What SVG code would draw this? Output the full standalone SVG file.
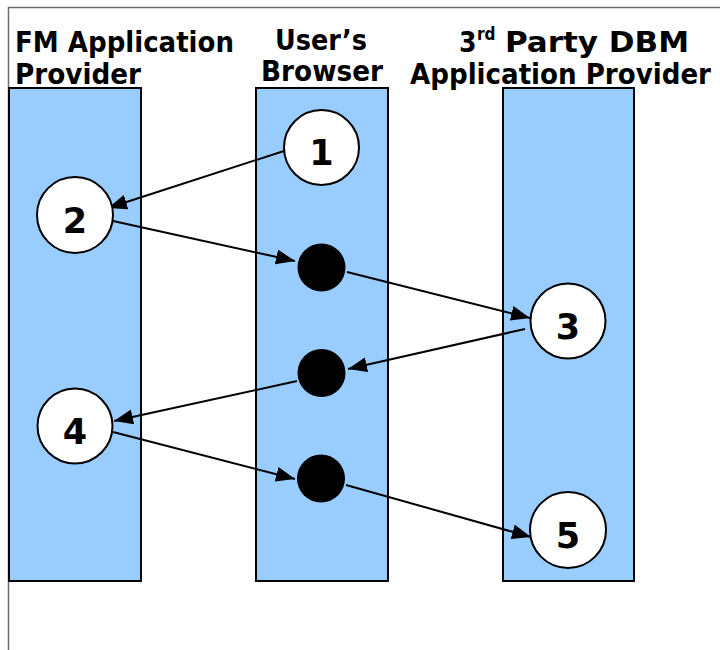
<svg xmlns="http://www.w3.org/2000/svg" width="720" height="650" viewBox="0 0 720 650">
<defs>
<style>
.lane{fill:#99ccff;stroke:#000;stroke-width:2}
.title{font-family:"DejaVu Sans Condensed","DejaVu Sans",Verdana,sans-serif;font-weight:bold;font-size:28px;fill:#000}
.step{fill:#fff;stroke:#000;stroke-width:2}
.dot{fill:#000}
.num{font-family:"DejaVu Sans",Verdana,sans-serif;font-weight:bold;font-size:35px;fill:#000;text-anchor:middle}
.conn{stroke:#000;stroke-width:2;fill:none;marker-end:url(#arr)}
</style>
<marker id="arr" markerUnits="userSpaceOnUse" markerWidth="22" markerHeight="16" refX="19" refY="7.5" orient="auto">
<path d="M0,0 L19,7.5 L0,15 z" fill="#000"/>
</marker>
</defs>
<rect width="720" height="650" fill="#fff"/>
<path d="M8.5,650 V7.5 H720" fill="none" stroke="#6e6e6e" stroke-width="1.5"/>
<g id="lane-fm">
<rect class="lane" x="9" y="88" width="132" height="493"/>
<text class="title" x="15" y="52" textLength="219" lengthAdjust="spacingAndGlyphs">FM Application</text>
<text class="title" x="15" y="84" textLength="126" lengthAdjust="spacingAndGlyphs">Provider</text>
</g>
<g id="lane-browser">
<rect class="lane" x="256" y="88" width="132" height="493"/>
<text class="title" x="275" y="50" textLength="92" lengthAdjust="spacingAndGlyphs">User’s</text>
<text class="title" x="261" y="81" textLength="122" lengthAdjust="spacingAndGlyphs">Browser</text>
</g>
<g id="lane-dbm">
<rect class="lane" x="503" y="88" width="131" height="493"/>
<text class="title" x="459" y="52">3<tspan x="477" y="40" font-size="17">rd</tspan><tspan x="505" y="52" textLength="184" lengthAdjust="spacingAndGlyphs">Party DBM</tspan></text>
<text class="title" x="410" y="84" textLength="301" lengthAdjust="spacingAndGlyphs">Application Provider</text>
</g>
<g id="connectors">
<line class="conn" x1="284" y1="151" x2="108" y2="208"/>
<line class="conn" x1="113" y1="221" x2="295" y2="261"/>
<line class="conn" x1="347" y1="272" x2="530" y2="318"/>
<line class="conn" x1="525" y1="329" x2="348" y2="369"/>
<line class="conn" x1="297" y1="381" x2="114" y2="421"/>
<line class="conn" x1="113" y1="432" x2="295" y2="479"/>
<line class="conn" x1="346" y1="485" x2="531" y2="537"/>
</g>
<g id="node-1"><circle class="step" cx="321.5" cy="147.5" r="37.5"/><text class="num" x="321.5" y="165">1</text></g>
<g id="node-2"><circle class="step" cx="75" cy="215" r="38"/><text class="num" x="75" y="233">2</text></g>
<g id="node-3"><circle class="step" cx="568" cy="321" r="37.5"/><text class="num" x="568" y="339">3</text></g>
<g id="node-4"><circle class="step" cx="75" cy="426" r="37.5"/><text class="num" x="75" y="444">4</text></g>
<g id="node-5"><circle class="step" cx="568" cy="530" r="38"/><text class="num" x="568" y="548">5</text></g>
<g id="dot-a"><circle class="dot" cx="321.5" cy="267.5" r="24"/></g>
<g id="dot-b"><circle class="dot" cx="321.5" cy="373" r="24"/></g>
<g id="dot-c"><circle class="dot" cx="321" cy="478.5" r="24"/></g>
</svg>
